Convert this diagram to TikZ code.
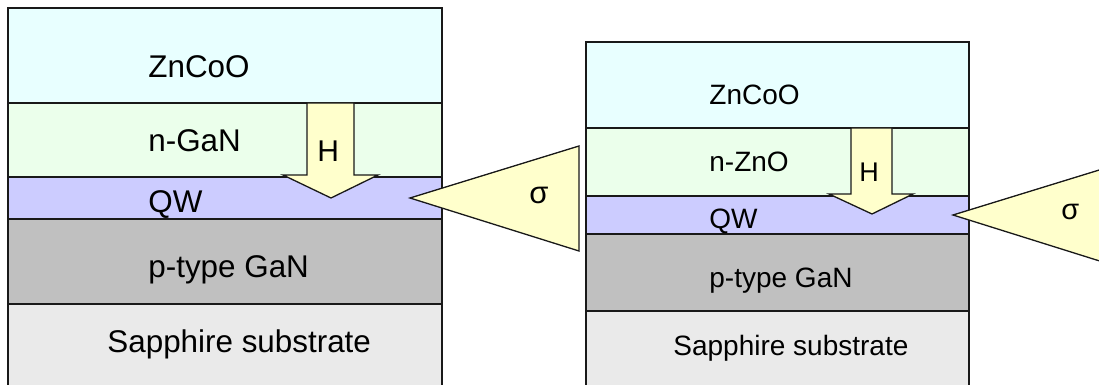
\documentclass[tikz,border=0pt]{standalone}
\usepackage{fontspec}
\setmainfont{Liberation Sans}

\definecolor{zncoo}{HTML}{E8FFFF}
\definecolor{ntype}{HTML}{EBFFEB}
\definecolor{qwell}{HTML}{CCCCFF}
\definecolor{ptype}{HTML}{C0C0C0}
\definecolor{sapph}{HTML}{EAEAEA}
\definecolor{field}{HTML}{FFFFCC}

\tikzset{
  layer/.style={draw=black!90, line width=0.65pt},
  pointer/.style={draw=black!90, line width=0.65pt, fill=field, line join=miter},
  lbl/.style={anchor=base west, inner sep=0pt},
  bigtxt/.style={lbl, font=\fontsize{15.7}{18}\selectfont},
  smalltxt/.style={lbl, font=\fontsize{14}{16}\selectfont}
}

\begin{document}
\begin{tikzpicture}[x=0.5pt,y=-0.5pt]
\useasboundingbox (0,0) rectangle (1099,385);
\clip (0,0) rectangle (1099,385);

% first sample
\draw[layer, fill=zncoo] (8,8) rectangle (442,103);
\draw[layer, fill=ntype] (8,103) rectangle (442,177);
\draw[layer, fill=qwell] (8,177) rectangle (442,219);
\draw[layer, fill=ptype] (8,219) rectangle (442,304);
\draw[layer, fill=sapph] (8,304) rectangle (442,395);

\node[bigtxt] (zncooA) at (148,78) {ZnCoO};
\node[bigtxt] (nganA) at (148,152) {n-GaN};
\node[bigtxt] (qwA) at (148,213) {QW};
\node[bigtxt] (pganA) at (148,278) {p-type GaN};
\node[bigtxt] (sapphA) at (107,352) {Sapphire substrate};

\draw[pointer] (307,103) -- (354,103) -- (354,175) -- (378,175) -- (331,198)
  -- (283,175) -- (307,175) -- cycle;
\node[lbl, font=\fontsize{15}{18}\selectfont] (hA) at (317,162) {H};

\draw[pointer] (410,198) -- (579,146) -- (579,251) -- cycle;
\node[lbl, font=\fontsize{15.5}{18}\selectfont] (sigmaA) at (529,204) {σ};

% second sample
\draw[layer, fill=zncoo] (586,42) rectangle (969,128);
\draw[layer, fill=ntype] (586,128) rectangle (969,196);
\draw[layer, fill=qwell] (586,196) rectangle (969,234);
\draw[layer, fill=ptype] (586,234) rectangle (969,311);
\draw[layer, fill=sapph] (586,311) rectangle (969,395);

\node[smalltxt] (zncooB) at (709,105) {ZnCoO};
\node[smalltxt] (nznoB) at (709,172) {n-ZnO};
\node[smalltxt] (qwB) at (709,228) {QW};
\node[smalltxt] (pganB) at (709,287) {p-type GaN};
\node[smalltxt] (sapphB) at (673,355) {Sapphire substrate};

\draw[pointer] (851,128) -- (892,128) -- (892,194) -- (913,194) -- (872,214)
  -- (829,194) -- (851,194) -- cycle;
\node[lbl, font=\fontsize{13.5}{16}\selectfont] (hB) at (859,182) {H};

\draw[pointer] (953,215) -- (1122,163) -- (1122,268) -- cycle;
\node[lbl, font=\fontsize{14.5}{17}\selectfont] (sigmaB) at (1061,220) {σ};
\end{tikzpicture}
\end{document}
